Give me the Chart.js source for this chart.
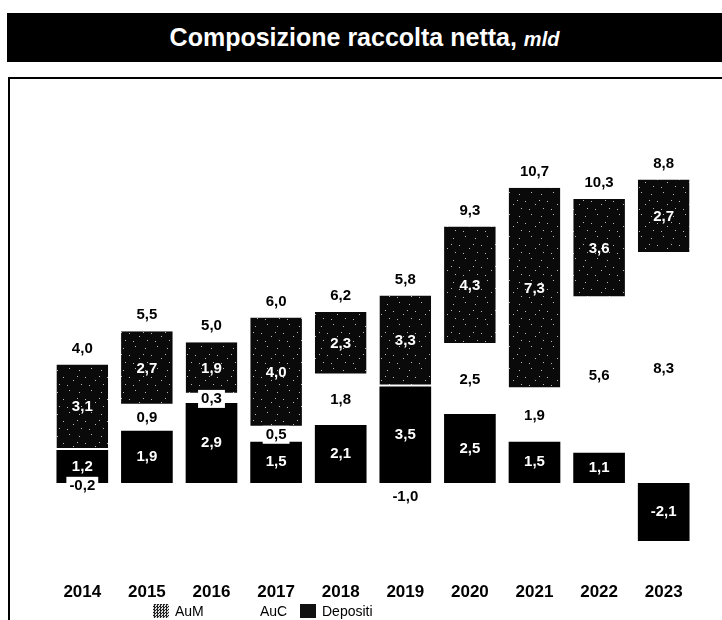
<!DOCTYPE html>
<html lang="it">
<head>
<meta charset="utf-8">
<title>Composizione raccolta netta</title>
<script src="https://cdn.jsdelivr.net/npm/chart.js@4.4.1/dist/chart.umd.min.js"></script>
<style>
  html, body {
    margin: 0;
    padding: 0;
    width: 722px;
    height: 620px;
    overflow: hidden;
    background: #fff;
    font-family: "Liberation Sans", Arial, sans-serif;
  }
  #titolo {
    position: absolute;
    left: 7px;
    top: 13px;
    width: 715px;
    height: 49px;
    background: #000;
    color: #fff;
    font-weight: bold;
    font-size: 25px;
    line-height: 49px;
    text-align: center;
  }
  #titolo i {
    font-size: 20px;
  }
  #cornice {
    position: absolute;
    left: 8px;
    top: 77px;
    width: 730px;
    height: 560px;
    border-left: 2px solid #000;
    border-top: 2px solid #000;
  }
  #box {
    position: absolute;
    left: 10px;
    top: 80px;
    width: 712px;
    height: 540px;
  }
  #legenda {
    position: absolute;
    top: 603px;
    left: 0;
    width: 722px;
    height: 16px;
    font-size: 14px;
    color: #000;
  }
  #legenda .voce {
    position: absolute;
    top: 0;
    display: flex;
    align-items: center;
  }
  #legenda span.sw {
    display: inline-block;
    width: 16px;
    height: 14px;
    margin-right: 6px;
  }
</style>
</head>
<body>
<div id="titolo">Composizione raccolta netta, <i>mld</i></div>
<div id="cornice"></div>
<div id="box"><canvas id="grafico"></canvas></div>
<div id="legenda"></div>

<script>
const anni = ["2014", "2015", "2016", "2017", "2018", "2019", "2020", "2021", "2022", "2023"];
const depositi = [1.2, 1.9, 2.9, 1.5, 2.1, 3.5, 2.5, 1.5, 1.1, -2.1];
const auc = [-0.2, 0.9, 0.3, 0.5, 1.8, -1.0, 2.5, 1.9, 5.6, 8.3];
const aum = [3.1, 2.7, 1.9, 4.0, 2.3, 3.3, 4.3, 7.3, 3.6, 2.7];
const totali = [4.0, 5.5, 5.0, 6.0, 6.2, 5.8, 9.3, 10.7, 10.3, 8.8];

const FONT = '"Liberation Sans", Arial, sans-serif';

function fmt(v) {
  return v.toFixed(1).replace(".", ",");
}

// scanned look: black with a few white specks
function trama() {
  const c = document.createElement("canvas");
  c.width = 22;
  c.height = 22;
  const g = c.getContext("2d");
  g.fillStyle = "#0a0a0a";
  g.fillRect(0, 0, 22, 22);
  g.fillStyle = "#bbb";
  [[3, 4], [15, 2], [9, 11], [19, 14], [5, 18], [13, 19], [1, 10]].forEach(([x, y]) => {
    g.fillRect(x, y, 1, 1);
  });
  return g.createPattern(c, "repeat");
}

const etichette = {
  id: "etichette",
  afterDatasetsDraw(chart) {
    const ctx = chart.ctx;
    ctx.save();
    ctx.textAlign = "center";
    ctx.textBaseline = "middle";
    ctx.font = "bold 15px " + FONT;

    chart.data.datasets.forEach((ds, i) => {
      chart.getDatasetMeta(i).data.forEach((bar, j) => {
        const txt = fmt(ds.data[j]);
        const y = (bar.y + bar.base) / 2;
        if (ds.label === "AuC") {
          const w = ctx.measureText(txt).width + 6;
          ctx.fillStyle = "#fff";
          ctx.fillRect(bar.x - w / 2, y - 9, w, 18);
          ctx.fillStyle = "#000";
        } else {
          ctx.fillStyle = "#fff";
        }
        ctx.fillText(txt, bar.x, y);
      });
    });

    // totals above the top segment
    ctx.fillStyle = "#000";
    chart.getDatasetMeta(2).data.forEach((bar, j) => {
      ctx.fillText(fmt(totali[j]), bar.x, bar.y - 16);
    });
    ctx.restore();
  }
};

const motivo = trama();

new Chart(document.getElementById("grafico"), {
  type: "bar",
  data: {
    labels: anni,
    datasets: [
      {
        label: "Depositi",
        data: depositi,
        backgroundColor: "#000",
        borderWidth: 0
      },
      {
        label: "AuC",
        data: auc,
        backgroundColor: "#fff",
        borderWidth: 0
      },
      {
        label: "AuM",
        data: aum,
        backgroundColor: motivo,
        borderColor: "#fff",
        borderWidth: { top: 0, right: 0, bottom: 2, left: 0 },
        borderSkipped: false
      }
    ]
  },
  options: {
    responsive: true,
    maintainAspectRatio: false,
    animation: false,
    layout: {
      padding: { left: 40, right: 26, top: 72, bottom: 14 }
    },
    datasets: {
      bar: {
        categoryPercentage: 0.8,
        barPercentage: 1
      }
    },
    plugins: {
      legend: { display: false },
      tooltip: { enabled: false }
    },
    scales: {
      x: {
        stacked: true,
        grid: { display: false, drawTicks: false },
        border: { display: false },
        ticks: {
          color: "#000",
          padding: 3,
          font: { family: FONT, size: 17, weight: "bold" }
        }
      },
      y: {
        stacked: true,
        display: false,
        min: -3.5,
        max: 12
      }
    }
  },
  plugins: [etichette]
});

// legend in the original order, placed as in the source
const legenda = document.getElementById("legenda");
[
  { nome: "AuM", x: 153, stile: "background: repeating-conic-gradient(#222 0 25%, #ddd 0 50%) 0 0 / 3px 3px;" },
  { nome: "AuC", x: 238, stile: "background: #fff;" },
  { nome: "Depositi", x: 300, stile: "background: #111;" }
].forEach((v) => {
  const d = document.createElement("div");
  d.className = "voce";
  d.style.left = v.x + "px";
  d.innerHTML = '<span class="sw" style="' + v.stile + '"></span>' + v.nome;
  legenda.appendChild(d);
});
</script>
</body>
</html>
